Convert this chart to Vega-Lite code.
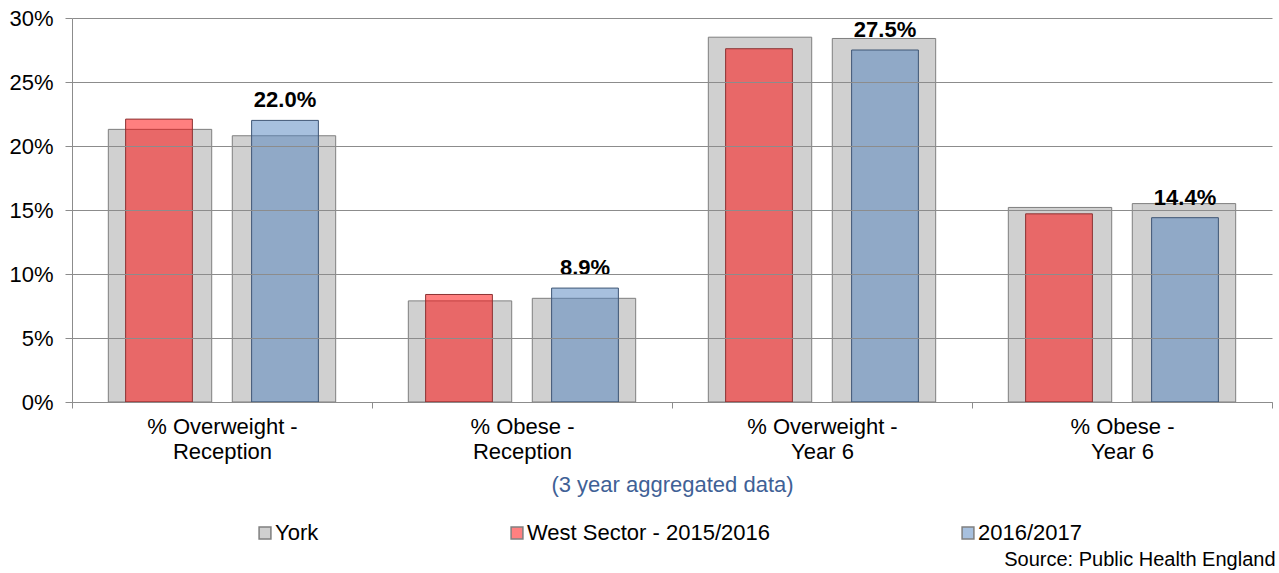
{
  "$schema": "https://vega.github.io/schema/vega-lite/v6.json",
  "width": 1200,
  "height": 384,
  "autosize": {"type": "none"},
  "padding": {"left": 72, "top": 18, "right": 7, "bottom": 171},
  "config": {
    "font": "Liberation Sans",
    "view": {"stroke": null},
    "axis": {"labelColor": "#000000", "labelFont": "Liberation Sans"}
  },
  "title": {
    "text": "Source: Public Health England",
    "orient": "bottom",
    "anchor": "end",
    "fontSize": 20,
    "fontWeight": "normal",
    "color": "#000000",
    "offset": 6,
    "dx": 3
  },
  "data": {
    "values": [
      {"cat": "% Overweight - Reception", "series": "York", "period": "2015/2016", "value": 0.213},
      {"cat": "% Overweight - Reception", "series": "York", "period": "2016/2017", "value": 0.208},
      {"cat": "% Overweight - Reception", "series": "West Sector - 2015/2016", "period": "2015/2016", "value": 0.221},
      {"cat": "% Overweight - Reception", "series": "2016/2017", "period": "2016/2017", "value": 0.220},
      {"cat": "% Obese - Reception", "series": "York", "period": "2015/2016", "value": 0.079},
      {"cat": "% Obese - Reception", "series": "York", "period": "2016/2017", "value": 0.081},
      {"cat": "% Obese - Reception", "series": "West Sector - 2015/2016", "period": "2015/2016", "value": 0.084},
      {"cat": "% Obese - Reception", "series": "2016/2017", "period": "2016/2017", "value": 0.089},
      {"cat": "% Overweight - Year 6", "series": "York", "period": "2015/2016", "value": 0.285},
      {"cat": "% Overweight - Year 6", "series": "York", "period": "2016/2017", "value": 0.284},
      {"cat": "% Overweight - Year 6", "series": "West Sector - 2015/2016", "period": "2015/2016", "value": 0.276},
      {"cat": "% Overweight - Year 6", "series": "2016/2017", "period": "2016/2017", "value": 0.275},
      {"cat": "% Obese - Year 6", "series": "York", "period": "2015/2016", "value": 0.152},
      {"cat": "% Obese - Year 6", "series": "York", "period": "2016/2017", "value": 0.155},
      {"cat": "% Obese - Year 6", "series": "West Sector - 2015/2016", "period": "2015/2016", "value": 0.147},
      {"cat": "% Obese - Year 6", "series": "2016/2017", "period": "2016/2017", "value": 0.144}
    ]
  },
  "encoding": {
    "x": {
      "field": "cat",
      "type": "nominal",
      "sort": null,
      "scale": {"paddingInner": 0, "paddingOuter": 0},
      "axis": {
        "title": "(3 year aggregated data)",
        "titleColor": "#3F6196",
        "titleFontSize": 22,
        "titleFontWeight": "normal",
        "titlePadding": 12,
        "labelAngle": 0,
        "labelFontSize": 22,
        "labelLineHeight": 25,
        "labelPadding": 8,
        "labelExpr": "datum.label ? [split(datum.label, ' - ')[0] + ' -', split(datum.label, ' - ')[1]] : ''",
        "tickBand": "extent",
        "tickSize": 6,
        "tickColor": "#8c8c8c",
        "domainColor": "#8c8c8c",
        "grid": false
      }
    },
    "y": {
      "field": "value",
      "type": "quantitative",
      "scale": {"domain": [0, 0.3], "nice": false},
      "axis": {
        "title": null,
        "format": ".0%",
        "values": [0, 0.05, 0.1, 0.15, 0.2, 0.25, 0.3],
        "labelFontSize": 22,
        "labelPadding": 12,
        "tickSize": 7,
        "tickColor": "#8c8c8c",
        "domainColor": "#8c8c8c",
        "gridColor": "#8c8c8c",
        "gridOpacity": 1,
        "zindex": 1
      }
    }
  },
  "layer": [
    {
      "transform": [{"filter": "datum.series === 'York'"}],
      "mark": {"type": "bar", "stroke": "#7f7f7f", "strokeWidth": 1},
      "encoding": {
        "xOffset": {
          "field": "period",
          "type": "nominal",
          "scale": {"domain": ["2015/2016", "2016/2017"], "paddingInner": 0.166, "paddingOuter": 0.293}
        },
        "color": {
          "field": "series",
          "type": "nominal",
          "scale": {
            "domain": ["York", "West Sector - 2015/2016", "2016/2017"],
            "range": ["#d0d0d0", "#ff8080", "#a7c0de"]
          },
          "legend": {
            "title": null,
            "orient": "none",
            "direction": "horizontal",
            "legendX": 182,
            "legendY": 504,
            "columnPadding": 187,
            "symbolType": "square",
            "symbolSize": 140,
            "symbolStrokeColor": "#7f7f7f",
            "symbolStrokeWidth": 1.5,
            "labelFontSize": 22,
            "labelOffset": -1,
            "labelColor": "#000000",
            "labelLimit": 400
          }
        }
      }
    },
    {
      "encoding": {
        "xOffset": {
          "field": "period",
          "type": "nominal",
          "scale": {"domain": ["2015/2016", "2016/2017"], "paddingInner": 0.47, "paddingOuter": 0.4255}
        }
      },
      "layer": [
        {
          "transform": [{"filter": "datum.series !== 'York'"}],
          "mark": {"type": "bar", "fillOpacity": 0.5, "strokeWidth": 1},
          "encoding": {
            "fill": {
              "field": "series",
              "type": "nominal",
              "scale": {"domain": ["West Sector - 2015/2016", "2016/2017"], "range": ["#ff0000", "#4f81bd"]},
              "legend": null
            },
            "stroke": {
              "field": "series",
              "type": "nominal",
              "scale": {"domain": ["West Sector - 2015/2016", "2016/2017"], "range": ["#8b3333", "#3f5675"]},
              "legend": null
            }
          }
        },
        {
          "transform": [{"filter": "datum.series === '2016/2017'"}],
          "mark": {"type": "text", "fontSize": 22, "fontWeight": "bold", "baseline": "alphabetic", "dy": -13, "color": "#000000"},
          "encoding": {
            "text": {"field": "value", "type": "quantitative", "format": ".1%"}
          }
        }
      ]
    }
  ],
  "resolve": {"scale": {"xOffset": "independent"}}
}
